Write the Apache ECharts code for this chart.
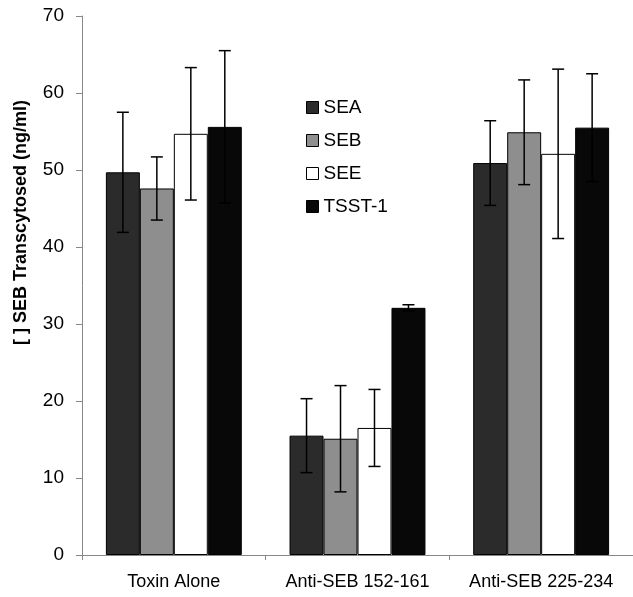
<!DOCTYPE html>
<html>
<head>
<meta charset="utf-8">
<script src="https://cdn.jsdelivr.net/npm/echarts@6/dist/echarts.min.js"></script>
<style>
  html, body { margin: 0; padding: 0; background: #fff; }
  #main { width: 633px; height: 597px; }
</style>
</head>
<body>
<div id="main"></div>
<script>
// categories on the x axis
const categories = ['Toxin Alone', 'Anti-SEB 152-161', 'Anti-SEB 225-234'];
// series names
const seriesNames = ['SEA', 'SEB', 'SEE', 'TSST-1'];
// bar heights (ng/ml)
const seaVals = [49.7, 15.5, 50.9];
const sebVals = [47.6, 15.1, 54.9];
const seeVals = [54.7, 16.5, 52.1];
const tsstVals = [55.6, 32.1, 55.5];
// error bar half-widths
const seaErr = [7.8, 4.8, 5.5];
const sebErr = [4.1, 6.9, 6.8];
const seeErr = [8.6, 5.0, 11.0];
const tsstErr = [9.9, 0.4, 7.0];
// y axis ticks
const yTicks = [0, 10, 20, 30, 40, 50, 60, 70];

const fills = ['#2b2b2b', '#8e8e8e', '#ffffff', '#080808'];
const allVals = [seaVals, sebVals, seeVals, tsstVals];
const allErr = [seaErr, sebErr, seeErr, tsstErr];
const catGap = 0.26;
const font = 'Liberation Sans, Arial, sans-serif';

const chart = echarts.init(document.getElementById('main'));

// error bars drawn on top of the grouped bars
function errorSeries(idx) {
  const data = categories.map((c, i) => [i, allVals[idx][i] - allErr[idx][i], allVals[idx][i] + allErr[idx][i]]);
  return {
    type: 'custom',
    name: seriesNames[idx] + ' err',
    z: 10,
    silent: true,
    data: data,
    encode: { x: 0, y: [1, 2] },
    renderItem: function (params, api) {
      const catW = api.size([1, 0])[0];
      const barW = catW * (1 - catGap) / 4;
      const dx = (idx - 1.5) * barW;
      const lo = api.coord([api.value(0), api.value(1)]);
      const hi = api.coord([api.value(0), api.value(2)]);
      const x = lo[0] + dx;
      const cap = 6;
      const style = { stroke: '#000', lineWidth: 1.5 };
      return {
        type: 'group',
        children: [
          { type: 'line', shape: { x1: x, y1: lo[1], x2: x, y2: hi[1] }, style: style },
          { type: 'line', shape: { x1: x - cap, y1: hi[1], x2: x + cap, y2: hi[1] }, style: style },
          { type: 'line', shape: { x1: x - cap, y1: lo[1], x2: x + cap, y2: lo[1] }, style: style }
        ]
      };
    }
  };
}

const barSeries = seriesNames.map((name, idx) => ({
  type: 'bar',
  name: name,
  data: allVals[idx],
  barGap: '0%',
  barCategoryGap: (catGap * 100) + '%',
  itemStyle: { color: fills[idx], borderColor: '#000', borderWidth: 1 }
}));

chart.setOption({
  animation: false,
  textStyle: { fontFamily: font, color: '#000' },
  grid: { left: 82, right: 0, top: 16, bottom: 42 },
  legend: {
    orient: 'vertical',
    left: 301,
    top: 93,
    itemWidth: 12,
    itemHeight: 12,
    itemGap: 14,
    icon: 'rect',
    textStyle: { fontSize: 19, color: '#000', fontFamily: font },
    data: seriesNames.map((n, i) => ({ name: n, itemStyle: { color: fills[i], borderColor: '#000', borderWidth: 1 } }))
  },
  xAxis: {
    type: 'category',
    data: categories,
    axisLine: { lineStyle: { color: '#888' } },
    axisTick: { show: true, length: 5, lineStyle: { color: '#888' } },
    axisLabel: { fontSize: 18, color: '#000', margin: 18, interval: 0 }
  },
  yAxis: {
    type: 'value',
    min: yTicks[0],
    max: yTicks[yTicks.length - 1],
    interval: 10,
    splitLine: { show: false },
    axisLine: { show: true, lineStyle: { color: '#888' } },
    axisTick: { show: true, length: 6, lineStyle: { color: '#888' } },
    axisLabel: { fontSize: 19, color: '#000', margin: 18 }
  },
  graphic: [{
    type: 'text',
    left: 12,
    top: 100,
    rotation: Math.PI / 2,
    style: {
      text: '[ ] SEB Transcytosed (ng/ml)',
      font: 'bold 18px ' + font,
      fill: '#000'
    }
  }],
  series: barSeries.concat(seriesNames.map((n, i) => errorSeries(i)))
});
</script>
</body>
</html>
